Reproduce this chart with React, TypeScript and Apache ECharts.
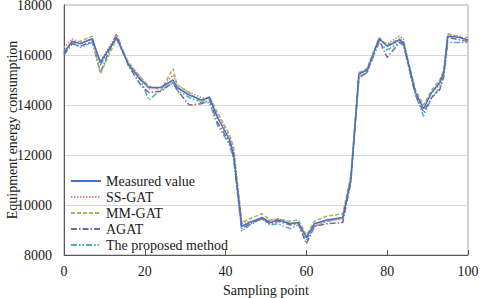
import React, { useEffect, useRef } from "react";
import * as echarts from "echarts";

const xs = [0, 2, 4, 7, 9, 13, 16, 19, 21, 24, 27, 28, 31, 34, 36, 38, 41, 42, 44, 46, 49, 51, 53, 56, 58, 60, 62, 65, 69, 71, 73, 75, 78, 80, 83, 84, 87, 89, 91, 93, 94, 95, 98, 100];

const measured = [16100, 16550, 16450, 16650, 15700, 16700, 15600, 15000, 14700, 14700, 15000, 14700, 14400, 14200, 14300, 13500, 12600, 12000, 9150, 9300, 9500, 9300, 9400, 9250, 9300, 8700, 9250, 9400, 9500, 11000, 15250, 15400, 16650, 16350, 16600, 16500, 14500, 13850, 14500, 14900, 15300, 16750, 16700, 16600];
const ssGat = [16300, 16650, 16500, 16600, 15750, 16800, 15650, 15100, 14650, 14700, 15200, 14800, 14500, 14300, 14250, 13600, 12700, 12200, 9250, 9350, 9400, 9400, 9450, 9300, 9250, 8750, 9150, 9350, 9450, 11100, 15200, 15350, 16600, 16450, 16750, 16650, 14400, 14000, 14500, 14800, 15300, 16800, 16750, 16450];
const mmGat = [16150, 16500, 16550, 16750, 15250, 16650, 15700, 15100, 14750, 14600, 15450, 14800, 14500, 14100, 14350, 13700, 12800, 12300, 9300, 9450, 9650, 9400, 9450, 9350, 9400, 8800, 9350, 9550, 9650, 11200, 15300, 15450, 16700, 16400, 16650, 16550, 14600, 14000, 14600, 15000, 15400, 16850, 16700, 16700];
const aGat = [16000, 16450, 16350, 16550, 15300, 16850, 15550, 14800, 14500, 14550, 14900, 14600, 14000, 14050, 14200, 13300, 12500, 11900, 9050, 9250, 9450, 9250, 9350, 9200, 9250, 8450, 9150, 9250, 9300, 10900, 15100, 15300, 16600, 15900, 16500, 16450, 14400, 13700, 14300, 14600, 15200, 16700, 16600, 16550];
const proposed = [16050, 16500, 16300, 16500, 15600, 16650, 15600, 15000, 14200, 14600, 14900, 14600, 14300, 14100, 14100, 13200, 12400, 11800, 8950, 9200, 9450, 9200, 9250, 9050, 9200, 8600, 9150, 9350, 9450, 11000, 15100, 15300, 16500, 16200, 16500, 16400, 14400, 13550, 14300, 14700, 15100, 16500, 16500, 16500];

const seriesNames = ["Measured value", "SS-GAT", "MM-GAT", "AGAT", "The proposed method"];
const seriesColors = ["#4472C4", "#E8837E", "#9BBB59", "#8064A2", "#4BACC6"];
const seriesDash: any[] = ["solid", [1.5, 1.5], [4, 2], [6, 2, 1.5, 2], [6, 2, 1.5, 2, 1.5, 2]];
const seriesValues = [measured, ssGat, mmGat, aGat, proposed];

const FONT = "Liberation Serif";

export default function App() {
  const ref = useRef<HTMLDivElement>(null);
  useEffect(() => {
    if (!ref.current) return;
    const chart = echarts.init(ref.current, undefined, { renderer: "svg" });
    chart.setOption({
      animation: false,
      backgroundColor: "#ffffff",
      textStyle: { fontFamily: FONT },
      grid: {
        left: 64, right: 12, top: 5, bottom: 43,
        show: true, borderColor: "#a6a6a6", borderWidth: 1,
        containLabel: false, outerBoundsMode: "none",
      },
      legend: {
        orient: "vertical",
        left: 65,
        top: 169,
        itemGap: 2,
        itemWidth: 30,
        itemHeight: 14,
        itemStyle: { opacity: 0 },
        textStyle: { fontFamily: FONT, fontSize: 14, color: "#1a1a1a" },
        data: seriesNames,
      },
      xAxis: {
        type: "value",
        min: 0,
        max: 100,
        interval: 20,
        name: "Sampling point",
        nameLocation: "middle",
        nameGap: 28,
        nameMoveOverlap: false,
        nameTextStyle: { fontFamily: FONT, fontSize: 14, color: "#1a1a1a" },
        axisLine: { show: true, lineStyle: { color: "#595959" } },
        axisTick: { show: true, inside: true, length: 5, lineStyle: { color: "#595959" } },
        axisLabel: { fontFamily: FONT, fontSize: 14, color: "#1a1a1a", margin: 9 },
        splitLine: { show: false },
      },
      yAxis: {
        type: "value",
        min: 8000,
        max: 18000,
        interval: 2000,
        name: "Equipment energy consumption",
        nameLocation: "middle",
        nameGap: 45,
        nameMoveOverlap: false,
        nameTextStyle: { fontFamily: FONT, fontSize: 14, color: "#1a1a1a" },
        axisLine: { show: true, lineStyle: { color: "#595959" } },
        axisTick: { show: false },
        axisLabel: { fontFamily: FONT, fontSize: 14, color: "#1a1a1a", margin: 12, formatter: (v: number) => String(v) },
        splitLine: { show: true, lineStyle: { color: "#d9d9d9", width: 1 } },
      },
      series: seriesValues.map((vals, i) => ({
        name: seriesNames[i],
        type: "line",
        data: xs.map((x, j) => [x, vals[j]]),
        showSymbol: false,
        symbol: "none",
        color: seriesColors[i],
        lineStyle: { color: seriesColors[i], width: 1.5, type: seriesDash[i] },
        z: 10 - i,
      })),
    });
    return () => chart.dispose();
  }, []);
  return <div ref={ref} style={{ position: "fixed", left: 0, top: 0, width: 480, height: 298 }} />;
}
